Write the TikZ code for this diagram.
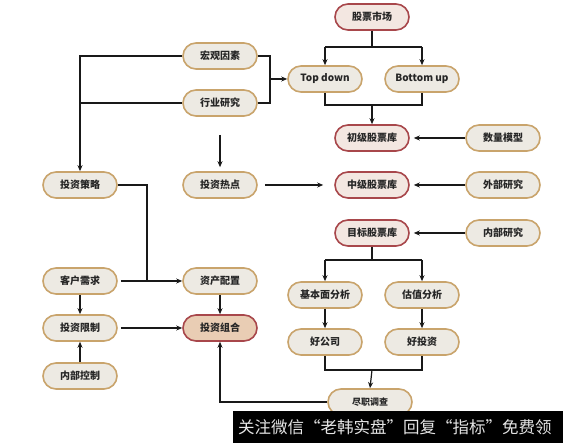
\documentclass[tikz,border=0pt]{standalone}
\usepackage{fontspec}
\newfontfamily\cjk{Noto Sans CJK SC}
\usetikzlibrary{arrows.meta}
\definecolor{nfill}{HTML}{EDEAE3}
\definecolor{nborder}{HTML}{C9A46C}
\definecolor{rborder}{HTML}{A8474B}
\definecolor{rfill}{HTML}{F3E7E1}
\definecolor{pfill}{HTML}{E9CDB4}
\tikzset{
 nbox/.style={draw=nborder, fill=nfill, line width=1.6pt, rounded corners=13pt, minimum width=74pt, minimum height=26pt, inner sep=0pt, font=\cjk\bfseries\fontsize{10}{12}\selectfont, text=black!85},
 rbox/.style={nbox, draw=rborder, fill=rfill},
 pbox/.style={rbox, fill=pfill},
 conn/.style={line width=1.2pt, black!90},
 arr/.style={conn, -{Stealth[length=6pt,width=5pt]}},
}
\begin{document}
\begin{tikzpicture}[x=1pt,y=-1pt]
\useasboundingbox (0,0) rectangle (563,443);
\fill[white] (0,0) rectangle (563,443);
% nodes
\node[rbox] (sc) at (372,17) {股票市场};
\node[nbox] (td) at (325,79) {Top down};
\node[nbox] (bu) at (422,79) {Bottom up};
\node[rbox] (cj) at (372,138) {初级股票库};
\node[nbox] (sl) at (503,138) {数量模型};
\node[rbox] (zj) at (372,185) {中级股票库};
\node[nbox] (wb) at (503,185) {外部研究};
\node[rbox] (mb) at (372,233) {目标股票库};
\node[nbox] (nb) at (503,233) {内部研究};
\node[nbox] (jb) at (325,295) {基本面分析};
\node[nbox] (gz) at (422,295) {估值分析};
\node[nbox] (hg2) at (325,342) {好公司};
\node[nbox] (ht) at (422,342) {好投资};
\node[nbox, minimum width=84pt, font=\cjk\bfseries\fontsize{9}{11}\selectfont] (jz) at (370,402) {尽职调查};
\node[nbox] (hg) at (220,56) {宏观因素};
\node[nbox] (hy) at (220,103) {行业研究};
\node[nbox] (cl) at (80,185) {投资策略};
\node[nbox] (rd) at (220,185) {投资热点};
\node[nbox] (kh) at (80,281) {客户需求};
\node[nbox] (zc) at (220,281) {资产配置};
\node[nbox] (xz) at (80,328) {投资限制};
\node[pbox] (zh) at (220,328) {投资组合};
\node[nbox] (nk) at (80,376) {内部控制};
% connectors
\coordinate (j1) at (372,47);
\draw[conn] (sc.south) -- (j1);
\draw[conn] (td.north |- j1) -- (bu.north |- j1);
\draw[arr] (td.north |- j1) -- (td.north);
\draw[arr] (bu.north |- j1) -- (bu.north);
\coordinate (j2) at (372,105);
\draw[conn] (td.south) -- (td.south |- j2) -- (bu.south |- j2) -- (bu.south);
\draw[arr] (j2) -- (cj.north);
\coordinate (j3) at (270,79);
\draw[conn] (hg.east) -| (j3);
\draw[conn] (hy.east) -| (j3);
\draw[arr] (j3) -- (td.west);
\draw[arr] (hg.west) -| (cl.north);
\draw[conn] (hy.west) -- (hy.west -| cl.north);
\coordinate (hs) at (220,135);
\draw[arr, shorten >=4pt] (hs) -- (rd.north);
\draw[arr, shorten <=7pt, shorten >=11pt] (rd.east) -- (zj.west);
\draw[arr, shorten >=4pt] (sl.west) -- (cj.east);
\draw[arr, shorten >=4pt] (wb.west) -- (zj.east);
\draw[arr, shorten >=4pt] (nb.west) -- (mb.east);
\coordinate (j4) at (372,260);
\draw[conn] (mb.south) -- (j4);
\draw[conn] (jb.north |- j4) -- (gz.north |- j4);
\draw[arr] (jb.north |- j4) -- (jb.north);
\draw[arr] (gz.north |- j4) -- (gz.north);
\draw[arr] (jb.south) -- (hg2.north);
\draw[arr] (gz.south) -- (ht.north);
\coordinate (j6) at (372,370);
\draw[conn] (hg2.south) -- (hg2.south |- j6) -- (ht.south |- j6) -- (ht.south);
\draw[arr] (j6) -- (jz.north);
\draw[arr] (jz.west) -| (zh.south);
\coordinate (j5) at (147,281);
\draw[conn] (cl.east) -| (j5);
\draw[arr, shorten <=3pt] (kh.east) -- (zc.west);
\draw[arr] (zc.south) -- (zh.north);
\draw[arr, shorten <=3pt] (xz.east) -- (zh.west);
\draw[arr] (kh.south) -- (xz.north);
\draw[arr] (nk.north) -- (xz.south);
% banner
\fill[black] (233,411) rectangle (563,443);
\node[anchor=west, inner sep=0pt, text=gray!20, font=\cjk\fontsize{16.5}{18}\selectfont] (bn) at (238,427) {关注微信“老韩实盘”回复“指标”免费领};
\end{tikzpicture}
\end{document}
